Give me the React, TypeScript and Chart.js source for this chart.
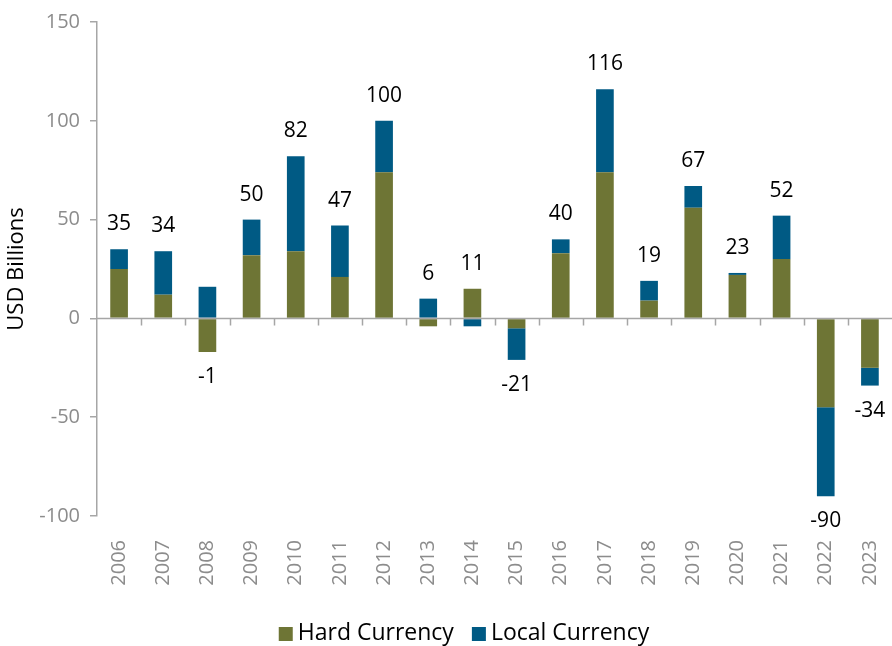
import React, { useEffect, useRef } from 'react';
import { Chart, registerables } from 'chart.js';

Chart.register(...registerables);

const years = ['2006', '2007', '2008', '2009', '2010', '2011', '2012', '2013', '2014', '2015', '2016', '2017', '2018', '2019', '2020', '2021', '2022', '2023'];
const hardCurrency = [25, 12, -17, 32, 34, 21, 74, -4, 15, -5, 33, 74, 9, 56, 22, 30, -45, -25];
const localCurrency = [10, 22, 16, 18, 48, 26, 26, 10, -4, -16, 7, 42, 10, 11, 1, 22, -45, -9];
const totals = [35, 34, -1, 50, 82, 47, 100, 6, 11, -21, 40, 116, 19, 67, 23, 52, -90, -34];
const yTicks = [-100, -50, 0, 50, 100, 150];

const HARD_COLOR = '#6e7535';
const LOCAL_COLOR = '#005a84';
const AXIS_COLOR = '#a6a6a6';
const TICK_TEXT = '#8c8c8c';
const FONT = "'Open Sans', 'Noto Sans', sans-serif";

const zeroLinePlugin = {
  id: 'zeroLine',
  afterDatasetsDraw(chart: any) {
    const { ctx, chartArea, scales } = chart;
    const y0 = Math.round(scales.y.getPixelForValue(0)) + 0.5;
    const x = scales.x;
    ctx.save();
    ctx.strokeStyle = AXIS_COLOR;
    ctx.lineWidth = 1.5;
    ctx.beginPath();
    ctx.moveTo(chartArea.left, y0);
    ctx.lineTo(chartArea.right, y0);
    for (let i = 1; i < years.length; i++) {
      const bx = Math.round((x.getPixelForValue(i - 1) + x.getPixelForValue(i)) / 2) + 0.5;
      ctx.moveTo(bx, y0);
      ctx.lineTo(bx, y0 + 7);
    }
    ctx.stroke();
    ctx.restore();
  },
};

const totalsPlugin = {
  id: 'totalsLabels',
  afterDatasetsDraw(chart: any) {
    const { ctx, scales } = chart;
    ctx.save();
    ctx.font = `21px ${FONT}`;
    ctx.fillStyle = '#000000';
    ctx.textAlign = 'center';
    ctx.textBaseline = 'middle';
    totals.forEach((t, i) => {
      const pos = Math.max(0, hardCurrency[i]) + Math.max(0, localCurrency[i]);
      const neg = Math.min(0, hardCurrency[i]) + Math.min(0, localCurrency[i]);
      const cx = scales.x.getPixelForValue(i);
      const cy = t >= 0 ? scales.y.getPixelForValue(pos) - 25 : scales.y.getPixelForValue(neg) + 25;
      ctx.fillText(String(t), cx, cy);
    });
    ctx.restore();
  },
};

const legendPlugin = {
  id: 'bottomLegend',
  afterDraw(chart: any) {
    const { ctx } = chart;
    const datasets = chart.data.datasets;
    const box = 14;
    const textGap = 5;
    const itemGap = 18;
    const cy = 633;
    const centerX = 464;
    ctx.save();
    ctx.font = `23px ${FONT}`;
    ctx.textBaseline = 'middle';
    ctx.textAlign = 'left';
    const widths = datasets.map((d: any) => box + textGap + ctx.measureText(d.label).width);
    const total = widths.reduce((a: number, b: number) => a + b, 0) + itemGap * (datasets.length - 1);
    let x = centerX - total / 2;
    datasets.forEach((d: any, i: number) => {
      ctx.fillStyle = d.backgroundColor;
      ctx.fillRect(x, cy - box / 2 + 1, box, box);
      ctx.fillStyle = '#000000';
      ctx.fillText(d.label, x + box + textGap, cy);
      x += widths[i] + itemGap;
    });
    ctx.restore();
  },
};

export default function App() {
  const canvasRef = useRef<HTMLCanvasElement | null>(null);

  useEffect(() => {
    if (!canvasRef.current) return;
    const chart = new Chart(canvasRef.current, {
      type: 'bar',
      data: {
        labels: years,
        datasets: [
          {
            label: 'Hard Currency',
            data: hardCurrency,
            backgroundColor: HARD_COLOR,
            barPercentage: 0.4,
            categoryPercentage: 1,
          },
          {
            label: 'Local Currency',
            data: localCurrency,
            backgroundColor: LOCAL_COLOR,
            barPercentage: 0.4,
            categoryPercentage: 1,
          },
        ],
      },
      options: {
        responsive: false,
        animation: false,
        devicePixelRatio: 1,
        layout: { padding: { top: 20, right: 0, left: 0, bottom: 0 } },
        plugins: {
          tooltip: { enabled: false },
          legend: { display: false },
        },
        scales: {
          x: {
            stacked: true,
            grid: { display: false, drawTicks: false, tickLength: 0 },
            border: { display: false },
            ticks: {
              color: TICK_TEXT,
              font: { family: FONT, size: 20 },
              minRotation: 90,
              maxRotation: 90,
              padding: 24,
              autoSkip: false,
            },
            afterFit(scale: any) {
              scale.height = scale.chart.height - 516;
              scale.paddingLeft = 0;
              scale.paddingRight = 0;
            },
          },
          y: {
            stacked: true,
            min: -100,
            max: 150,
            grid: { drawOnChartArea: false, drawTicks: true, tickLength: 7, color: AXIS_COLOR, lineWidth: 1.5 },
            border: { display: true, color: AXIS_COLOR, width: 1.5 },
            ticks: {
              color: TICK_TEXT,
              font: { family: FONT, size: 20 },
              padding: 10,
            },
            afterBuildTicks(scale: any) {
              scale.ticks = yTicks.map((v) => ({ value: v }));
            },
            afterFit(scale: any) {
              scale.width = 97;
            },
            title: {
              display: true,
              text: 'USD Billions',
              color: '#000000',
              font: { family: FONT, size: 22 },
              padding: { top: 4, bottom: 0 },
            },
          },
        },
      },
      plugins: [zeroLinePlugin, totalsPlugin, legendPlugin],
    });
    return () => chart.destroy();
  }, []);

  return (
    <div style={{ position: 'absolute', left: 0, top: 0, width: 892, height: 646, background: '#ffffff' }}>
      <canvas ref={canvasRef} width={892} height={646} />
    </div>
  );
}
